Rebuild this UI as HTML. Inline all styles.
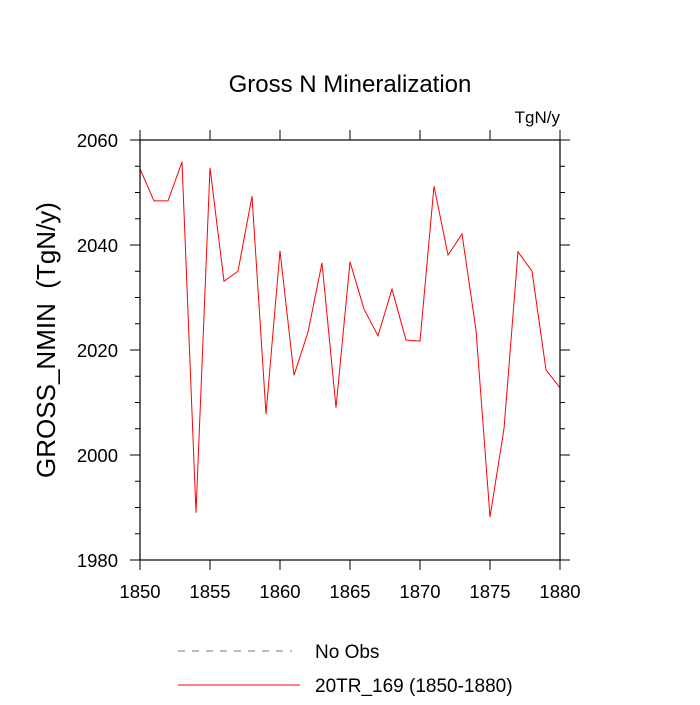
<!DOCTYPE html>
<html><head><meta charset="utf-8"><style>
body{margin:0;background:#fff;}
svg text{font-family:"Liberation Sans",sans-serif;fill:#000;}
</style></head><body>
<svg width="700" height="700" viewBox="0 0 700 700">
<text x="350" y="92" font-size="24" text-anchor="middle">Gross N Mineralization</text>
<text x="560" y="123" font-size="17" text-anchor="end">TgN/y</text>
<text transform="translate(55,340) rotate(-90)" font-size="26" text-anchor="middle">GROSS_NMIN&#160; (TgN/y)</text>
<g id="axes"></g>
<polyline id="series" fill="none" stroke="#ff0000" stroke-width="1"/>
<rect x="140" y="140" width="420" height="420" fill="none" stroke="#000" stroke-width="1.2"/>
<g>
<line x1="178" y1="651" x2="292" y2="651" stroke="#777" stroke-dasharray="7,7"/>
<text x="315" y="658" font-size="19">No Obs</text>
<line x1="178" y1="685" x2="300" y2="685" stroke="#ff0000"/>
<text x="315" y="692" font-size="19">20TR_169 (1850-1880)</text>
</g>
</svg>
<script>
const years=[1850,1851,1852,1853,1854,1855,1856,1857,1858,1859,1860,1861,1862,1863,1864,1865,1866,1867,1868,1869,1870,1871,1872,1873,1874,1875,1876,1877,1878,1879,1880];
const values=[2054.5,2048.4,2048.4,2055.8,1989,2054.7,2033.1,2035,2049.3,2007.8,2038.9,2015.2,2023.4,2036.6,2009,2036.8,2027.8,2022.7,2031.6,2021.9,2021.7,2051.2,2038.1,2042.1,2023.8,1988.2,2005,2038.7,2035,2016.2,2012.8];
const xTicks=[1850,1855,1860,1865,1870,1875,1880];
const yTicks=[1980,2000,2020,2040,2060];
const x=v=>140+(v-1850)/30*420;
const y=v=>560-(v-1980)/80*420;
const NS='http://www.w3.org/2000/svg';
const g=document.getElementById('axes');
function ln(x1,y1,x2,y2,name){const l=document.createElementNS(NS,'line');l.setAttribute('x1',x1);l.setAttribute('y1',y1);l.setAttribute('x2',x2);l.setAttribute('y2',y2);l.setAttribute('stroke','#000');l.setAttribute('stroke-width','1');


g.appendChild(l);}
function tx(px,py,s,anchor,name){const t=document.createElementNS(NS,'text');t.setAttribute('x',px);t.setAttribute('y',py);t.setAttribute('font-size','18.5');t.setAttribute('text-anchor',anchor);t.textContent=s;


g.appendChild(t);}
xTicks.forEach(v=>{const px=x(v);ln(px,560,px,570,'x-tick');ln(px,140,px,130,'x-tick-top');tx(px,598,String(v),'middle','x-tick-label');});
for(let v=1980;v<=2060;v+=5){const py=y(v);const L=(v%20===0)?10:5;ln(140,py,140-L,py,'y-tick');ln(560,py,560+L,py,'y-tick-right');}
yTicks.forEach(v=>tx(118,y(v)+7,String(v),'end','y-tick-label'));
document.getElementById('series').setAttribute('points',years.map((yr,i)=>x(yr)+','+y(values[i])).join(' '));
</script>
</body></html>
